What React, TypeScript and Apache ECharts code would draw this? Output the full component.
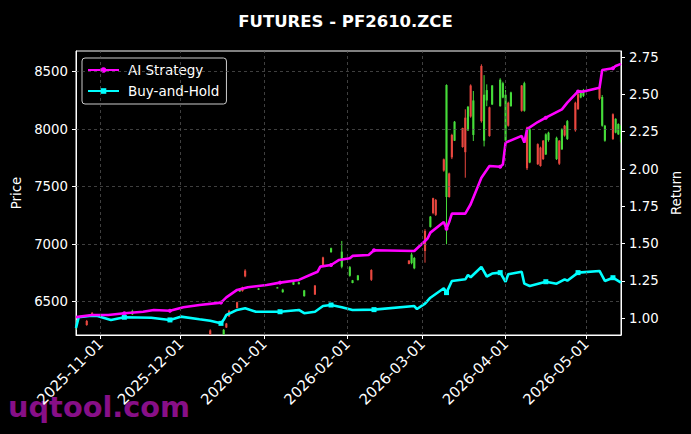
import React, { useEffect, useRef } from "react";
import * as echarts from "echarts";

const FONT = "DejaVu Sans";
const GREEN = "#46dc3a";
const RED = "#e8473f";

const candleDates = ["2025-10-23","2025-10-27","2025-10-29","2025-11-13","2025-12-12","2025-12-17","2025-12-18","2025-12-19","2025-12-22","2025-12-23","2025-12-24","2025-12-25","2025-12-30","2026-01-06","2026-01-08","2026-01-12","2026-01-14","2026-01-16","2026-01-20","2026-01-23","2026-01-26","2026-01-30","2026-02-02","2026-02-03","2026-02-05","2026-02-10","2026-02-24","2026-02-25","2026-02-26","2026-03-02","2026-03-04","2026-03-05","2026-03-06","2026-03-09","2026-03-10","2026-03-11","2026-03-12","2026-03-13","2026-03-16","2026-03-17","2026-03-18","2026-03-19","2026-03-20","2026-03-23","2026-03-24","2026-03-25","2026-03-26","2026-03-27","2026-03-30","2026-03-31","2026-04-01","2026-04-02","2026-04-03","2026-04-07","2026-04-08","2026-04-09","2026-04-10","2026-04-13","2026-04-14","2026-04-15","2026-04-16","2026-04-17","2026-04-20","2026-04-21","2026-04-22","2026-04-23","2026-04-24","2026-04-27","2026-04-28","2026-04-29","2026-04-30","2026-05-06","2026-05-07","2026-05-08","2026-05-11","2026-05-12","2026-05-13","2026-05-14"];
const candleOpen = [6271,6332,6400,6390,6250,6215,6310,6420,6495,6588,6625,6770,6604,6618,6582,6648,6652,6548,6640,6885,6930,6804,6725,6662,6688,6775,6858,6835,6790,7115,7150,7400,7385,7738,7410,7615,7950,7900,8010,8100,7990,8380,7950,8550,7900,8250,8190,8215,8200,8275,7900,8230,8200,8380,8160,8015,7710,7870,7840,7900,7780,7905,7740,7900,7825,8030,7915,8230,8305,8275,8290,8365,8030,7900,8130,7970,7955,7890];
const candleClose = [6323,6297,6380,6420,6215,6255,6275,6372,6445,6605,6592,6720,6615,6624,6605,6670,6668,6598,6562,6810,6965,6935,6800,6686,6728,6690,6828,6910,6880,6941,7240,7270,7255,7640,8384,7410,7755,8065,7845,7800,8195,8110,8250,8070,8300,8340,7940,8380,8430,8400,8300,8030,8320,8160,8400,7660,8000,7695,7680,7740,7955,7970,7925,7700,8000,7945,8070,7990,8175,8335,8340,8265,8280,8030,7915,8090,8045,8030];
const candleLow = [6254,6290,6376,6384,6190,6190,6271,6367,6443,6585,6587,6712,6602,6615,6578,6645,6650,6543,6558,6804,6926,6790,6717,6660,6683,6680,6825,6825,6782,6839,7144,7260,7245,7630,6999,7404,7740,7897,7839,7578,7984,8100,7897,8057,7850,8200,7935,8210,8196,8269,7877,8022,8196,8152,8152,7645,7704,7689,7674,7732,7776,7891,7732,7689,7819,7935,7906,7978,8167,8269,8280,8254,8022,7891,7906,7964,7950,7877];
const candleHigh = [6341,6341,6410,6430,6260,6262,6315,6428,6500,6612,6630,6782,6617,6628,6612,6674,6674,6602,6645,6891,6970,7028,6810,6689,6732,6782,6860,6926,6889,7130,7245,7404,7393,7745,8390,7622,7960,8071,8013,8173,8202,8390,8332,8564,8470,8390,8196,8384,8443,8413,8341,8239,8326,8384,8413,8022,8008,7877,7848,7906,7964,7978,7935,7906,8008,8037,8080,8239,8312,8341,8350,8370,8297,8037,8138,8095,8051,8037];

const aiDates = ["2025-10-23","2025-10-29","2025-11-04","2025-11-10","2025-11-17","2025-11-21","2025-11-27","2025-12-02","2025-12-08","2025-12-16","2025-12-18","2025-12-22","2025-12-26","2026-01-02","2026-01-07","2026-01-14","2026-01-19","2026-01-21","2026-01-22","2026-01-26","2026-01-29","2026-02-02","2026-02-03","2026-02-09","2026-02-11","2026-02-26","2026-03-02","2026-03-03","2026-03-04","2026-03-09","2026-03-10","2026-03-11","2026-03-12","2026-03-17","2026-03-19","2026-03-23","2026-03-26","2026-03-30","2026-03-31","2026-04-01","2026-04-07","2026-04-08","2026-04-09","2026-04-13","2026-04-16","2026-04-22","2026-04-24","2026-04-28","2026-04-30","2026-05-06","2026-05-07","2026-05-11","2026-05-12","2026-05-14"];
const aiReturns = [1.008,1.022,1.022,1.034,1.044,1.056,1.051,1.074,1.089,1.105,1.14,1.19,1.208,1.223,1.239,1.257,1.297,1.312,1.346,1.357,1.391,1.402,1.418,1.424,1.456,1.451,1.518,1.536,1.574,1.645,1.6,1.645,1.702,1.701,1.764,1.942,2.02,2.015,2.03,2.177,2.222,2.177,2.267,2.315,2.344,2.4,2.445,2.52,2.519,2.545,2.664,2.675,2.69,2.705];

const bhDates = ["2025-10-23","2025-10-24","2025-10-28","2025-10-31","2025-11-05","2025-11-10","2025-11-20","2025-11-27","2025-12-01","2025-12-08","2025-12-12","2025-12-16","2025-12-17","2025-12-18","2025-12-22","2025-12-25","2025-12-29","2026-01-07","2026-01-14","2026-01-16","2026-01-20","2026-01-23","2026-01-26","2026-01-30","2026-02-03","2026-02-11","2026-02-26","2026-02-27","2026-03-02","2026-03-04","2026-03-09","2026-03-10","2026-03-12","2026-03-17","2026-03-18","2026-03-19","2026-03-23","2026-03-25","2026-03-27","2026-03-30","2026-04-01","2026-04-02","2026-04-07","2026-04-08","2026-04-10","2026-04-16","2026-04-20","2026-04-23","2026-04-24","2026-04-28","2026-05-06","2026-05-08","2026-05-11","2026-05-14"];
const bhReturns = [0.935,1.007,1.015,1.015,0.989,1.007,1.004,0.989,1.011,0.993,0.984,0.966,0.99,1.022,1.056,1.067,1.044,1.044,1.056,1.034,1.044,1.082,1.089,1.074,1.056,1.058,1.082,1.062,1.098,1.138,1.201,1.172,1.25,1.261,1.29,1.275,1.344,1.28,1.3,1.306,1.245,1.295,1.312,1.232,1.216,1.245,1.232,1.261,1.252,1.306,1.317,1.25,1.272,1.239];

const markerDates = ["2025-11-10","2025-11-27","2025-12-16","2026-01-07","2026-01-26","2026-02-11","2026-03-10","2026-03-30","2026-04-16","2026-04-28","2026-05-11"];

const monthTicks = ["2025-11-01","2025-12-01","2026-01-01","2026-02-01","2026-03-01","2026-04-01","2026-05-01"];
const priceTicks = [6500, 7000, 7500, 8000, 8500];
const returnTicks = [1.0, 1.25, 1.5, 1.75, 2.0, 2.25, 2.5, 2.75];

const ts = (s: string) => new Date(s + "T00:00:00").getTime();
const DAY = 86400000;

export default function App() {
  const ref = useRef<HTMLDivElement>(null);
  useEffect(() => {
    document.body.style.margin = "0";
    document.body.style.background = "#000";
    const chart = echarts.init(ref.current!, null, { renderer: "svg" });
    const markSet = new Set(markerDates);
    const candleData = candleDates.map((d, i) => [ts(d), candleOpen[i], candleClose[i], candleLow[i], candleHigh[i]]);
    const renderCandle = (params: any, api: any) => {
      const x = api.value(0);
      const o = api.value(1), c = api.value(2), l = api.value(3), h = api.value(4);
      const pO = api.coord([x, o]);
      const pC = api.coord([x, c]);
      const pL = api.coord([x, l]);
      const pH = api.coord([x, h]);
      const w = api.size([DAY * 0.8, 0])[0];
      const color = c >= o ? GREEN : RED;
      return {
        type: "group",
        children: [
          { type: "line", shape: { x1: pH[0], y1: pH[1], x2: pL[0], y2: pL[1] }, style: { stroke: color, lineWidth: 1 } },
          { type: "rect", shape: { x: pO[0] - w / 2, y: Math.min(pO[1], pC[1]), width: w, height: Math.max(Math.abs(pO[1] - pC[1]), 1) }, style: { fill: color } },
        ],
      };
    };
    const option: any = {
      animation: false,
      backgroundColor: "#000",
      textStyle: { fontFamily: FONT },
      title: {
        text: "FUTURES - PF2610.ZCE",
        left: "center",
        top: 8,
        textStyle: { color: "#fff", fontSize: 16.5, fontWeight: "bold", fontFamily: FONT },
      },
      legend: {
        data: ["AI Strategy", "Buy-and-Hold"],
        orient: "vertical",
        left: 82,
        top: 58,
        itemWidth: 31,
        itemHeight: 7,
        itemGap: 5,
        padding: [4, 7, 5, 5],
        backgroundColor: "#000",
        borderColor: "#cccccc",
        borderWidth: 1,
        borderRadius: 3,
        textStyle: { color: "#fff", fontSize: 13.5, fontFamily: FONT, lineHeight: 16, padding: [0, 0, 0, 4] },
      },
      grid: { left: 76, right: 70, top: 51, bottom: 99, show: true, borderColor: "#fff", borderWidth: 1, backgroundColor: "transparent" },
      xAxis: {
        type: "time",
        min: ts("2025-10-23"),
        max: ts("2026-05-14"),
        axisLine: { show: true, lineStyle: { color: "#fff", width: 1 } },
        axisTick: { show: true, customValues: monthTicks.map(ts), length: 4, lineStyle: { color: "#fff" } },
        axisLabel: {
          customValues: monthTicks.map(ts),
          rotate: 45,
          color: "#fff",
          fontSize: 14.8,
          fontFamily: FONT,
          margin: 6,
          formatter: "{yyyy}-{MM}-{dd}",
          hideOverlap: false,
        },
        splitLine: { show: false },
      },
      yAxis: [
        {
          type: "value",
          position: "left",
          min: 6210,
          max: 8680,
          name: "Price",
          nameLocation: "middle",
          nameGap: 49,
          nameRotate: 90,
          nameTextStyle: { color: "#fff", fontSize: 13.3, fontFamily: FONT },
          axisLine: { show: true, lineStyle: { color: "#fff" } },
          axisTick: { show: true, customValues: priceTicks, length: 4, lineStyle: { color: "#fff" } },
          axisLabel: {
            customValues: priceTicks,
            color: "#fff",
            fontSize: 13.3,
            fontFamily: FONT,
            margin: 8,
            formatter: (v: number) => String(Math.round(v)),
          },
          splitLine: { show: false },
        },
        {
          type: "value",
          position: "right",
          min: 0.888,
          max: 2.791,
          name: "Return",
          nameLocation: "middle",
          nameGap: 45,
          nameRotate: 90,
          nameTextStyle: { color: "#fff", fontSize: 13.3, fontFamily: FONT },
          axisLine: { show: true, lineStyle: { color: "#fff" } },
          axisTick: { show: true, customValues: returnTicks, length: 4, lineStyle: { color: "#fff" } },
          axisLabel: {
            customValues: returnTicks,
            color: "#fff",
            fontSize: 13.3,
            fontFamily: FONT,
            margin: 8,
            formatter: (v: number) => v.toFixed(2),
          },
          splitLine: { show: false },
        },
      ],
      graphic: [
        {
          type: "text",
          left: 8,
          top: 392,
          z: -1,
          style: { text: "uqtool.com", fill: "#870f87", font: "bold 28.8px 'DejaVu Sans'" },
        },
      ],
      series: [
        {
          type: "line",
          name: "grid",
          data: [],
          z: 1,
          silent: true,
          markLine: {
            silent: true,
            symbol: "none",
            label: { show: false },
            lineStyle: { type: [3, 3], color: "#5a5a5a", width: 0.7 },
            data: [
              ...priceTicks.map((v) => ({ yAxis: v })),
              ...monthTicks.map((d) => ({ xAxis: ts(d) })),
            ],
          },
        },
        {
          type: "custom",
          name: "candles",
          data: candleData,
          encode: { x: 0, y: [1, 2, 3, 4] },
          renderItem: renderCandle,
          clip: true,
          z: 2,
        },
        {
          type: "line",
          name: "Buy-and-Hold",
          yAxisIndex: 1,
          data: bhDates.map((d, i) => [ts(d), bhReturns[i]]),
          symbol: "rect",
          showSymbol: true,
          showAllSymbol: true,
          symbolSize: (_v: any, p: any) => (markSet.has(bhDates[p.dataIndex]) ? 5 : 0),
          lineStyle: { color: "#00ffff", width: 2.6 },
          itemStyle: { color: "#00ffff" },
          z: 3,
        },
        {
          type: "line",
          name: "AI Strategy",
          yAxisIndex: 1,
          data: aiDates.map((d, i) => [ts(d), aiReturns[i]]),
          symbol: "circle",
          showSymbol: true,
          showAllSymbol: true,
          symbolSize: (_v: any, p: any) => (markSet.has(aiDates[p.dataIndex]) ? 4 : 0),
          lineStyle: { color: "#ff00ff", width: 2.6 },
          itemStyle: { color: "#ff00ff" },
          z: 4,
        },
      ],
    };
    chart.setOption(option);
    return () => chart.dispose();
  }, []);
  return <div ref={ref} style={{ width: 691, height: 434 }} />;
}
